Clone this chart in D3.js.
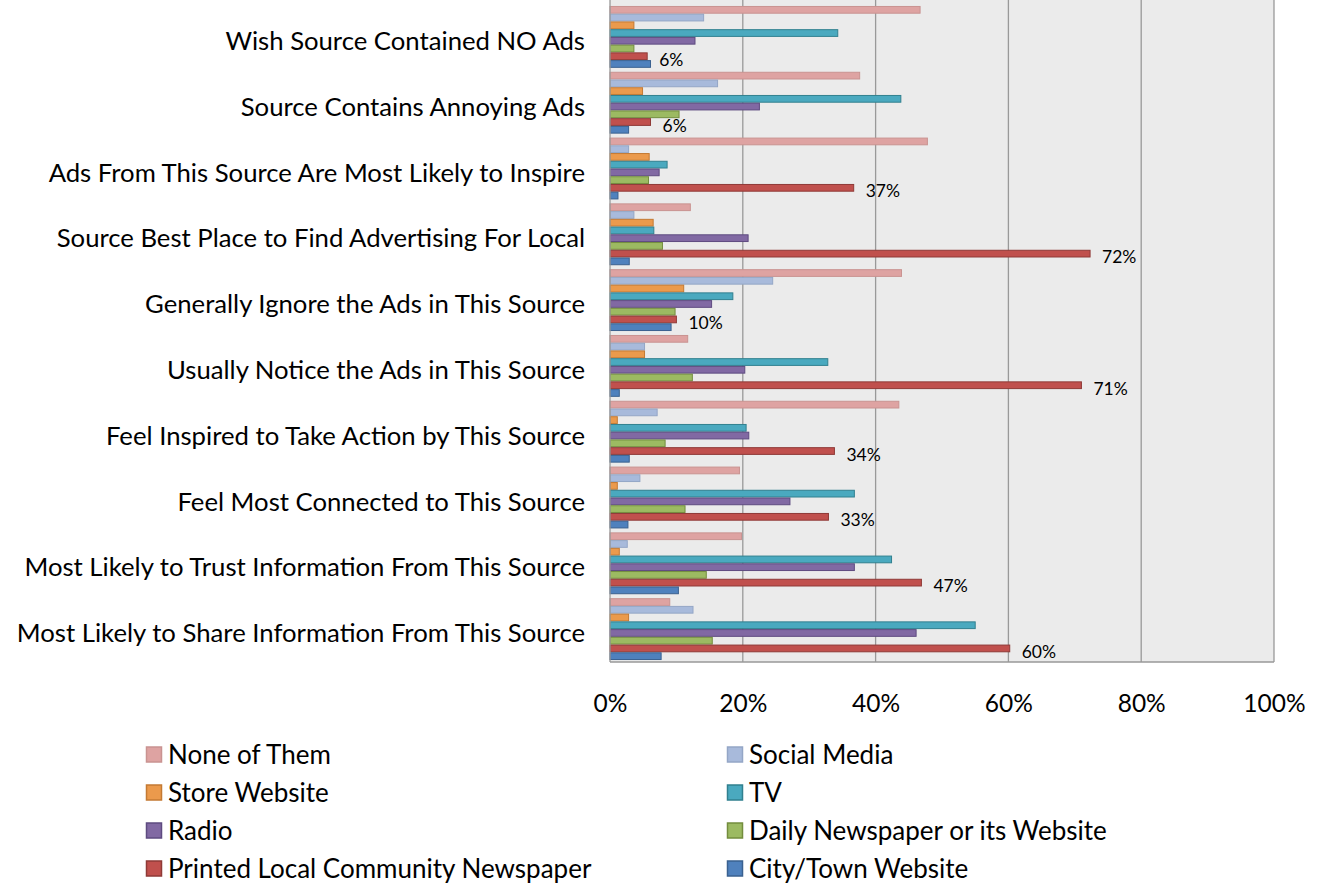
<!DOCTYPE html>
<html>
<head>
<meta charset="utf-8">
<script src="https://cdn.jsdelivr.net/npm/d3@7"></script>
<style>
  body { margin:0; background:#fff; }
  svg { display:block; font-family: Lato, "Open Sans", sans-serif; }
</style>
</head>
<body>
<svg id="chart" width="1318" height="884"></svg>
<script>
const categories = [
  'Wish Source Contained NO Ads',
  'Source Contains Annoying Ads',
  'Ads From This Source Are Most Likely to Inspire',
  'Source Best Place to Find Advertising For Local',
  'Generally Ignore the Ads in This Source',
  'Usually Notice the Ads in This Source',
  'Feel Inspired to Take Action by This Source',
  'Feel Most Connected to This Source',
  'Most Likely to Trust Information From This Source',
  'Most Likely to Share Information From This Source'
];
const seriesNames = ['None of Them','Social Media','Store Website','TV','Radio',
  'Daily Newspaper or its Website','Printed Local Community Newspaper','City/Town Website'];

// percent values per series, same order as categories
const noneOfThem = [46.7, 37.6, 47.8, 12.1, 43.9, 11.7, 43.5, 19.5, 19.8, 9.0];
const socialMedia = [14.1, 16.2, 2.8, 3.6, 24.5, 5.2, 7.1, 4.5, 2.6, 12.5];
const storeWebsite = [3.6, 4.9, 5.9, 6.5, 11.1, 5.2, 1.1, 1.1, 1.4, 2.8];
const tv = [34.3, 43.8, 8.6, 6.6, 18.5, 32.8, 20.5, 36.8, 42.4, 55.0];
const radio = [12.8, 22.5, 7.4, 20.8, 15.3, 20.3, 20.9, 27.1, 36.8, 46.1];
const dailyPaper = [3.6, 10.4, 5.8, 7.9, 9.8, 12.4, 8.3, 11.3, 14.5, 15.4];
const printedLocal = [5.6, 6.1, 36.7, 72.3, 10.0, 71.0, 33.8, 32.9, 46.9, 60.2];
const cityWebsite = [6.1, 2.8, 1.2, 2.9, 9.2, 1.4, 2.9, 2.7, 10.3, 7.7];
const xTicks = [0, 20, 40, 60, 80, 100];

const fills = ['#dea3a2','#a8badb','#eb9a4c','#4aa9bf','#8169a3','#9cba62','#c0504d','#4f81bd'];
const strokes = ['#c99391','#94a6c6','#c47a33','#31808f','#5e4b80','#738d3e','#8f3a37','#3a6190'];

const seriesValues = [noneOfThem, socialMedia, storeWebsite, tv, radio, dailyPaper, printedLocal, cityWebsite];
const labelSeries = 6;

const svg = d3.select('#chart');
const plotL = 610, plotR = 1274, plotT = 4, plotB = 662;

const x = d3.scaleLinear().domain([0, 100]).range([plotL, plotR]);
const y = d3.scaleBand().domain(categories).range([plotT, plotB]).paddingInner(0.06).paddingOuter(0.03);
const ySub = d3.scaleBand().domain(d3.range(seriesNames.length)).range([0, y.bandwidth()]);

// plot area
svg.append('rect').attr('x', plotL).attr('y', 0).attr('width', plotR - plotL).attr('height', plotB)
  .attr('fill', '#ebebeb');

svg.append('g').selectAll('line').data(xTicks.slice(1)).enter().append('line')
  .attr('x1', d => x(d)).attr('x2', d => x(d)).attr('y1', 0).attr('y2', plotB)
  .attr('stroke', '#999').attr('stroke-width', 1.3);

// bars
const groups = svg.append('g').selectAll('g').data(categories).enter().append('g')
  .attr('transform', d => `translate(0,${y(d)})`);

groups.each(function(cat, ci) {
  const g = d3.select(this);
  seriesValues.forEach((vals, si) => {
    g.append('rect')
      .attr('x', x(0)).attr('y', ySub(si) + 0.5)
      .attr('width', x(vals[ci]) - x(0)).attr('height', ySub.bandwidth() - 1)
      .attr('fill', fills[si]).attr('stroke', strokes[si]).attr('stroke-width', 1);
  });
  g.append('text')
    .attr('x', x(printedLocal[ci]) + 12)
    .attr('y', ySub(labelSeries) + ySub.bandwidth() / 2 + 3)
    .attr('dominant-baseline', 'central')
    .attr('font-size', 17.5).attr('fill', '#000')
    .text(Math.round(printedLocal[ci]) + '%');
});

// axes borders
svg.append('line').attr('x1', plotL).attr('x2', plotL).attr('y1', 0).attr('y2', plotB)
  .attr('stroke', '#999').attr('stroke-width', 1.3);
svg.append('line').attr('x1', plotL).attr('x2', plotR).attr('y1', plotB).attr('y2', plotB)
  .attr('stroke', '#999').attr('stroke-width', 1.5);

// category labels
const yAxis = svg.append('g').attr('transform', `translate(${plotL - 25},0)`)
  .call(d3.axisLeft(y).tickSize(0).tickPadding(0));
yAxis.select('.domain').remove();
yAxis.selectAll('text').attr('font-size', 25.7).attr('font-family', 'Lato, sans-serif')
  .attr('fill', '#000').attr('dy', '0.35em').attr('y', 4);

// x tick labels
const xAxis = svg.append('g').attr('transform', `translate(0,${plotB})`)
  .call(d3.axisBottom(x).tickValues(xTicks).tickFormat(d => d + '%').tickSize(0).tickPadding(0));
xAxis.select('.domain').remove();
xAxis.selectAll('text').attr('font-size', 24.5).attr('font-family', 'Lato, sans-serif')
  .attr('fill', '#000').attr('dy', '0.35em').attr('y', 41);

// legend
const legendCols = [146, 727];
const legendRows = [755, 793, 831, 869];
const legend = svg.append('g').selectAll('g').data(seriesNames).enter().append('g')
  .attr('transform', (d, i) => `translate(${legendCols[i % 2]},${legendRows[Math.floor(i / 2)]})`);
legend.append('rect').attr('x', 0.5).attr('y', -8).attr('width', 15).attr('height', 15)
  .attr('fill', (d, i) => fills[i]).attr('stroke', (d, i) => strokes[i]).attr('stroke-width', 1.5);
legend.append('text').attr('x', 22).attr('y', 0).attr('dy', '0.35em')
  .attr('font-size', 26).attr('fill', '#000').text(d => d);
</script>
</body>
</html>
